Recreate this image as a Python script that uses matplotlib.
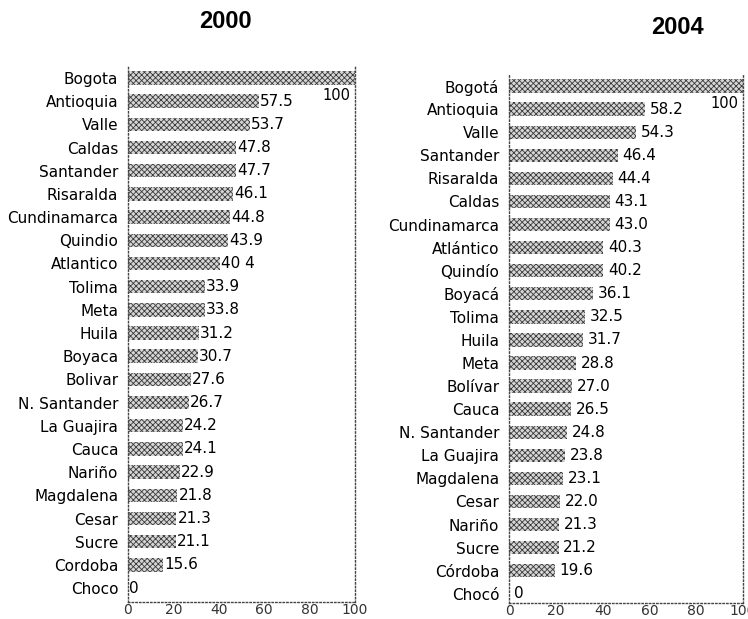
import numpy as np
import matplotlib.pyplot as plt

plt.rcParams['font.family'] = ['DejaVu Sans']
plt.rcParams['hatch.linewidth'] = 0.6

# 2000 ranking
dept_2000 = ['Bogota', 'Antioquia', 'Valle', 'Caldas', 'Santander', 'Risaralda',
             'Cundinamarca', 'Quindio', 'Atlantico', 'Tolima', 'Meta', 'Huila',
             'Boyaca', 'Bolivar', 'N. Santander', 'La Guajira', 'Cauca', 'Nariño',
             'Magdalena', 'Cesar', 'Sucre', 'Cordoba', 'Choco']
vals_2000 = [100, 57.5, 53.7, 47.8, 47.7, 46.1, 44.8, 43.9, 40.4, 33.9, 33.8, 31.2,
             30.7, 27.6, 26.7, 24.2, 24.1, 22.9, 21.8, 21.3, 21.1, 15.6, 0]
labels_2000 = ['100', '57.5', '53.7', '47.8', '47.7', '46.1', '44.8', '43.9', '40 4',
               '33.9', '33.8', '31.2', '30.7', '27.6', '26.7', '24.2', '24.1', '22.9',
               '21.8', '21.3', '21.1', '15.6', '0']

# 2004 ranking
dept_2004 = ['Bogotá', 'Antioquia', 'Valle', 'Santander', 'Risaralda', 'Caldas',
             'Cundinamarca', 'Atlántico', 'Quindío', 'Boyacá', 'Tolima', 'Huila',
             'Meta', 'Bolívar', 'Cauca', 'N. Santander', 'La Guajira', 'Magdalena',
             'Cesar', 'Nariño', 'Sucre', 'Córdoba', 'Chocó']
vals_2004 = [100, 58.2, 54.3, 46.4, 44.4, 43.1, 43.0, 40.3, 40.2, 36.1, 32.5, 31.7,
             28.8, 27.0, 26.5, 24.8, 23.8, 23.1, 22.0, 21.3, 21.2, 19.6, 0]
labels_2004 = ['100', '58.2', '54.3', '46.4', '44.4', '43.1', '43.0', '40.3', '40.2',
               '36.1', '32.5', '31.7', '28.8', '27.0', '26.5', '24.8', '23.8', '23.1',
               '22.0', '21.3', '21.2', '19.6', '0']

xticks = [0, 20, 40, 60, 80, 100]


def draw_panel(ax, names, values, labels, title, title_xy, gap, ylim):
    y = np.arange(len(names))
    ax.barh(y, values, height=0.58, color='#d6d6d6', edgecolor='#3a3a3a',
            hatch='xxxxxx', linewidth=0)
    for yi, v, lab in zip(y, values, labels):
        if v >= 100:
            ax.text(98, yi + 0.75, lab, ha='right', va='center', fontsize=10.5)
        else:
            ax.text(v + gap, yi, lab, ha='left', va='center', fontsize=11)
    ax.set_yticks(y)
    ax.set_yticklabels(names, fontsize=11)
    ax.set_xticks(xticks)
    ax.set_xticklabels([str(t) for t in xticks], fontsize=10, color='#333333')
    ax.set_xlim(0, 100)
    ax.set_ylim(*ylim)
    ax.tick_params(length=0, pad=7)
    ax.tick_params(axis='x', pad=1)
    ax.spines['top'].set_visible(False)
    for side in ['left', 'right', 'bottom']:
        ax.spines[side].set_linestyle(':')
        ax.spines[side].set_linewidth(1.0)
        ax.spines[side].set_color('#444444')
    ax.figure.text(title_xy[0], title_xy[1], title, ha='center', va='center',
                   fontsize=17, fontweight='bold', family='Liberation Sans')


fig = plt.figure(figsize=(7.48, 6.19), dpi=100)
ax1 = fig.add_axes([0.1711, 0.0275, 0.3035, 0.8653])
ax2 = fig.add_axes([0.6805, 0.0258, 0.3128, 0.8538])

draw_panel(ax1, dept_2000, vals_2000, labels_2000, '2000', (225 / 748, 1 - 22 / 619),
           0.5, (22.6, -0.5))
draw_panel(ax2, dept_2004, vals_2004, labels_2004, '2004', (677 / 748, 1 - 27 / 619),
           2.0, (22.4, -0.5))

fig.savefig('out.png', dpi=100)
